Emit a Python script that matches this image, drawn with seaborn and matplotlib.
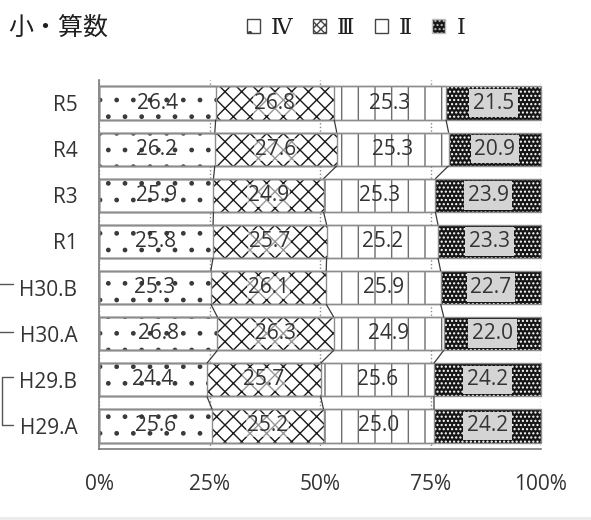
import numpy as np
import pandas as pd
import matplotlib
matplotlib.use("Agg")
import matplotlib.pyplot as plt
import matplotlib.transforms as mtransforms
from matplotlib.patches import Patch, Rectangle
from matplotlib.lines import Line2D
import seaborn as sns

# ---- data -------------------------------------------------------------
categories = ["R5", "R4", "R3", "R1", "H30.B", "H30.A", "H29.B", "H29.A"]
level_iv = [26.4, 26.2, 25.9, 25.8, 25.3, 26.8, 24.4, 25.6]
level_iii = [26.8, 27.6, 24.9, 25.7, 26.1, 26.3, 25.7, 25.2]
level_ii = [25.3, 25.3, 25.3, 25.2, 25.9, 24.9, 25.6, 25.0]
level_i = [21.5, 20.9, 23.9, 23.3, 22.7, 22.0, 24.2, 24.2]
series_names = ["Ⅳ", "Ⅲ", "Ⅱ", "Ⅰ"]
tick_values = [0, 25, 50, 75, 100]
tick_labels = ["0%", "25%", "50%", "75%", "100%"]
title_text = "小・算数"

# ---- styling ----------------------------------------------------------
sns.set_theme(style="white")
plt.rcParams["font.family"] = ["Open Sans", "Noto Sans CJK JP", "DejaVu Sans"]
plt.rcParams["hatch.linewidth"] = 1.0

TXT = "#333333"
OUTLINE = "#8c8c8c"
BAR_W = 0.72

W, H = 591, 520
fig = plt.figure(figsize=(W / 100, H / 100), dpi=100)
ax = fig.add_axes([99 / W, 1 - 449 / H, 442 / W, 369 / H])

# 100% stacked shares
raw = np.array([level_iv, level_iii, level_ii, level_i], dtype=float)
share = raw / raw.sum(axis=0) * 100
cum = np.cumsum(share, axis=0)          # right edge of each segment
left = np.vstack([np.zeros(len(categories)), cum[:-1]])

styles = [
    dict(face="white", hatch_col="#3a3a3a", hatch="."),     # IV
    dict(face="white", hatch_col="#1a1a1a", hatch="xx"),    # III
    dict(face="white", hatch_col="#6e6e6e", hatch="|"),     # II
    dict(face="#161616", hatch_col="white", hatch="...."),  # I
]


def bar_layer(values, **props):
    """Draw one full-length layer with seaborn and style its patches."""
    before = len(ax.patches)
    df = pd.DataFrame({"cat": categories, "val": values})
    sns.barplot(data=df, x="val", y="cat", order=categories, orient="y",
                width=BAR_W, saturation=1, color="white", errorbar=None,
                ax=ax, zorder=2)
    for p in ax.patches[before:]:
        p.set(**props)
    return ax.patches[before:]


# draw from the longest cumulative layer to the shortest so each covers the next
for k in range(3, -1, -1):
    st = styles[k]
    bar_layer(cum[k], facecolor=st["face"], edgecolor=st["hatch_col"],
              hatch=st["hatch"], linewidth=0)

# segment outlines
for k in range(4):
    bar_layer(cum[k], facecolor="none", edgecolor=OUTLINE, hatch=None,
              linewidth=1.0, clip_on=False, zorder=3)

# series lines between consecutive bars
for k in range(3):
    for j in range(len(categories) - 1):
        ax.plot([cum[k][j], cum[k][j + 1]],
                [j + BAR_W / 2, j + 1 - BAR_W / 2],
                color="#3a3a3a", lw=0.9, zorder=3, solid_capstyle="butt")

# value labels
for k in range(4):
    for j in range(len(categories)):
        xc = left[k][j] + share[k][j] / 2
        bbox = None
        if k == 3:
            bbox = dict(boxstyle="square,pad=0.18", fc="#d4d4d4", ec="none")
        elif k == 1:
            bbox = dict(boxstyle="square,pad=0.05", fc="white", ec="none", alpha=0.55)
        ax.text(xc, j, f"{raw[k][j]:.1f}", ha="center", va="center",
                fontsize=15, color=TXT, zorder=4, bbox=bbox)

# axes cosmetics
ax.set_xlim(0, 100)
ax.set_ylim(len(categories) - 0.5, -0.5)
ax.set_xticks(tick_values)
ax.set_xticklabels(tick_labels)
ax.set_xlabel("")
ax.set_ylabel("")
ax.tick_params(axis="x", length=0, pad=18, labelsize=15, colors=TXT)
ax.tick_params(axis="y", length=0, pad=15.5, labelsize=15, colors=TXT)
ax.grid(axis="x", color="#8a8a8a", linestyle=(0, (1, 1.6)), lw=1.0, zorder=1)
ax.grid(axis="y", visible=False)
ax.set_axisbelow(True)
for side in ["top", "right"]:
    ax.spines[side].set_visible(False)
for side in ["left", "bottom"]:
    ax.spines[side].set_color("#7a7a7a")
    ax.spines[side].set_linewidth(1.2)
ax.set_facecolor("white")

# brackets grouping the survey pairs
btrans = mtransforms.blended_transform_factory(fig.transFigure, ax.transData)
for (a, b, xv) in [(4, 5, -3 / W), (6, 7, 2 / W)]:
    ya, yb = a - 0.07, b - 0.03
    fig.add_artist(Line2D([13 / W, xv, xv, 13 / W], [ya, ya, yb, yb],
                          transform=btrans, color="#555555", lw=1.0))

# title
fig.text(8 / W, 1 - 28 / H, title_text, fontsize=18, color="#1f1f1f",
         ha="left", va="center", family=["Noto Sans CJK JP", "DejaVu Sans"])

# legend
handles = [
    Patch(facecolor="white", edgecolor="#444444", hatch=".", lw=1.0),
    Patch(facecolor="white", edgecolor="#444444", hatch="xxxx", lw=1.0),
    Patch(facecolor="white", edgecolor="#444444", hatch="|", lw=1.0),
    Patch(facecolor="#161616", edgecolor="#bbbbbb", hatch="....", lw=1.0),
]
fig.legend(handles, series_names, loc="center", bbox_to_anchor=(356 / W, 1 - 28 / H),
           ncol=4, frameon=False, handlelength=0.6, handleheight=0.6,
           handletextpad=0.5, columnspacing=0.9, labelcolor="#1f1f1f",
           prop={"family": ["DejaVu Serif", "Noto Sans CJK JP"], "size": 16})

# thin light strip along the bottom edge
fig.add_artist(Rectangle((0, 0), 1, 3 / H, transform=fig.transFigure,
                         facecolor="#ececec", edgecolor="none"))

fig.savefig("out.png", dpi=100)
